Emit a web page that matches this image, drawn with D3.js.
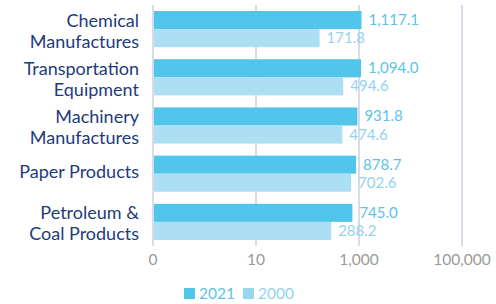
<html>
<head>
<script src="https://cdn.jsdelivr.net/npm/d3@7"></script>
<style>
  body { margin: 0; background: #fff; }
  text { font-family: Lato, "Open Sans", sans-serif; }
</style>
</head>
<body>
<svg width="496" height="304"></svg>
<script>
// data
const categories = [
  ["Chemical", "Manufactures"],
  ["Transportation", "Equipment"],
  ["Machinery", "Manufactures"],
  ["Paper Products"],
  ["Petroleum &", "Coal Products"]
];
const series = ["2021", "2000"];
const values2021 = [1117.1, 1094.0, 931.8, 878.7, 745.0];
const values2000 = [171.8, 494.6, 474.6, 702.6, 288.2];
const tickValues = [0.1, 10, 1000, 100000];
const tickLabels = ["0", "10", "1,000", "100,000"];

const colors = ["#52c5ea", "#acdef4"];
const labelColors = ["#5cc3e8", "#93d3ef"];

const svg = d3.select("svg");

const xs = d3.scaleLog().domain([0.1, 100000]).range([153, 462]);
const ys = d3.scaleBand().domain(d3.range(categories.length))
  .range([5, 246]).paddingInner(0.25).paddingOuter(0.125);
const sub = d3.scaleBand().domain(series).range([0, ys.bandwidth()]);

// grid lines
svg.append("g")
  .selectAll("line")
  .data(tickValues)
  .enter()
  .append("line")
  .attr("x1", d => xs(d)).attr("x2", d => xs(d))
  .attr("y1", 5).attr("y2", 246)
  .attr("stroke", "#cdd0e0")
  .attr("stroke-width", 1.5);

// tick labels
svg.append("g")
  .selectAll("text")
  .data(tickValues)
  .enter()
  .append("text")
  .attr("x", d => xs(d))
  .attr("y", 265)
  .attr("text-anchor", "middle")
  .style("font-size", "15.5px")
  .style("fill", "#9a9a9a")
  .text((d, i) => tickLabels[i]);

const allValues = [values2021, values2000];

series.forEach((s, si) => {
  const g = svg.append("g");
  g.selectAll("rect")
    .data(allValues[si])
    .enter()
    .append("rect")
    .attr("x", xs(0.1) + 1)
    .attr("y", (d, i) => ys(i) + sub(s))
    .attr("width", d => xs(d) - xs(0.1) - 1)
    .attr("height", sub.bandwidth())
    .style("fill", colors[si]);

  g.selectAll("text")
    .data(allValues[si])
    .enter()
    .append("text")
    .attr("x", d => xs(d) + 7)
    .attr("y", (d, i) => ys(i) + sub(s) + sub.bandwidth() / 2 + 5)
    .style("font-size", "15px")
    .style("fill", labelColors[si])
    .text(d => d3.format(",.1f")(d));
});

// category labels
const cat = svg.append("g")
  .selectAll("text")
  .data(categories)
  .enter()
  .append("text")
  .attr("text-anchor", "end")
  .style("font-size", "18px")
  .style("fill", "#1f3b7a");

cat.each(function(lines, i) {
  const mid = ys(i) + ys.bandwidth() / 2;
  const t = d3.select(this);
  lines.forEach((l, j) => {
    const y = lines.length == 1 ? mid + 4.5 : mid + 8 + (j - 0.5) * 21;
    t.append("tspan")
      .attr("x", 139)
      .attr("y", y)
      .text(l);
  });
});

// legend
const legend = svg.append("g").attr("id", "legend");
const legendX = [184, 243];
series.forEach((s, i) => {
  legend.append("rect")
    .attr("x", legendX[i]).attr("y", 288)
    .attr("width", 11).attr("height", 11)
    .style("fill", i == 0 ? colors[0] : "#9ad6f2");
  legend.append("text")
    .attr("x", legendX[i] + 15).attr("y", 299)
    .style("font-size", "15.5px")
    .style("fill", labelColors[i])
    .text(s);
});
</script>
</body>
</html>
